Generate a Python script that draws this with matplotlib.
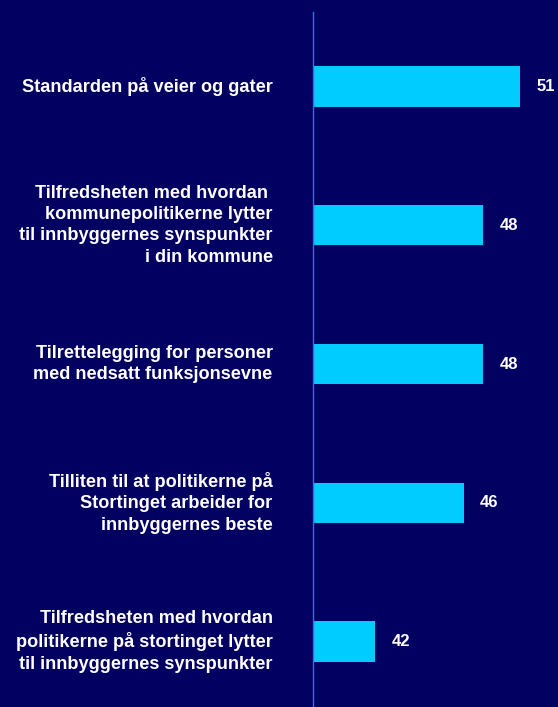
import matplotlib
matplotlib.use('Agg')
import matplotlib.pyplot as plt

categories = ['Standarden på veier og gater',
              'Tilfredsheten med hvordan \nkommunepolitikerne lytter\ntil innbyggernes synspunkter\ni din kommune',
              'Tilrettelegging for personer\nmed nedsatt funksjonsevne',
              'Tilliten til at politikerne på\nStortinget arbeider for\ninnbyggernes beste',
              'Tilfredsheten med hvordan\npolitikerne på stortinget lytter\ntil innbyggernes synspunkter']
shown = ['51', '48', '48', '46', '42']
# bar lengths
values = [50.4, 48.1, 48.1, 46.9, 41.4]

bg = '#020060'
bar_color = '#00ccff'
plt.rcParams['font.family'] = ['Liberation Sans', 'DejaVu Sans']

fig = plt.figure(figsize=(5.58, 7.07), dpi=100, facecolor=bg)
ax = fig.add_axes([313 / 558, 0, 245 / 558, 1 - 12 / 707])
ax.set_facecolor(bg)

y = list(range(len(categories)))
ax.barh(y, values, height=0.29, left=0, color=bar_color)
ax.set_xlim(37.5, 52.8)
ax.set_ylim(4.472, -0.537)

for yi, v, s in zip(y, values, shown):
    ax.annotate(s, (v, yi), xytext=(12, 0), textcoords='offset points',
                ha='left', va='center', color='white',
                fontsize=12, fontweight='bold')

for yi, c in zip(y, categories):
    ax.annotate(c, (37.5, yi), xytext=(-29, 0), textcoords='offset points',
                ha='right', va='center', ma='right', color='white',
                fontsize=13.1, fontweight='bold', linespacing=1.33,
                annotation_clip=False)

for s in ['top', 'right', 'bottom']:
    ax.spines[s].set_visible(False)
ax.spines['left'].set_color('#3670d8')
ax.spines['left'].set_linewidth(1)
ax.set_xticks([])
ax.set_yticks([])

fig.savefig('out.png', dpi=100, facecolor=bg)
